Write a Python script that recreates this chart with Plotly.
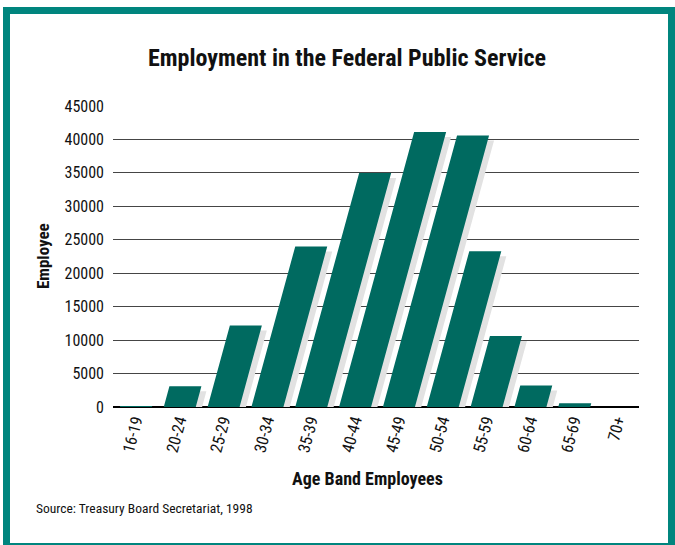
import plotly.graph_objects as go

# Federal public service headcount by age band, 1998
age_bands = ["16-19", "20-24", "25-29", "30-34", "35-39", "40-44",
             "45-49", "50-54", "55-59", "60-64", "65-69", "70+"]
employees = [150, 3100, 12200, 24000, 35000, 41100,
             40600, 23300, 10600, 3200, 550, 100]
y_tick_values = list(range(0, 45001, 5000))

W, H = 675, 545
MARGIN = dict(l=113, r=36, t=106, b=138)
plot_w = W - MARGIN["l"] - MARGIN["r"]
plot_h = H - MARGIN["t"] - MARGIN["b"]
x_range = [-0.5, len(age_bands) - 0.5]
y_range = [0, 45000]
ux = plot_w / (x_range[1] - x_range[0])   # px per category
uy = plot_h / (y_range[1] - y_range[0])   # px per employee

BAR_COLOR = "#006A60"
SHADOW_COLOR = "#E2E2E2"
FRAME_COLOR = "#00857E"
FONT = "Liberation Sans Narrow, Roboto Condensed, DejaVu Sans Condensed, Arial Narrow, sans-serif"

BAR_W = 32 / ux          # bar width in category units
LEAN = 0.273             # horizontal px per vertical px of the slanted bars
SH_DX, SH_DY = 5, 5      # drop shadow offset in px


def lean(v):
    """Horizontal shift (category units) of a bar edge at height v."""
    return LEAN * v * uy / ux


bar_x, bar_y, sh_x, sh_y = [], [], [], []
for i, v in enumerate(employees):
    x0 = i - BAR_W / 2 + 1 / ux
    bar_x += [x0, x0 + BAR_W, x0 + BAR_W + lean(v), x0 + lean(v), x0, None]
    bar_y += [0, 0, v, v, 0, None]
    top = v - SH_DY / uy
    if top > 0:
        sx0 = x0 + SH_DX / ux + lean(SH_DY / uy)
        tx0 = x0 + SH_DX / ux + lean(v)
        sh_x += [sx0, sx0 + BAR_W, tx0 + BAR_W, tx0, sx0, None]
        sh_y += [0, 0, top, top, 0, None]

fig = go.Figure()
fig.add_trace(go.Scatter(x=sh_x, y=sh_y, mode="lines", fill="toself",
                         fillcolor=SHADOW_COLOR, line=dict(width=0),
                         hoverinfo="skip", showlegend=False))
fig.add_trace(go.Scatter(x=bar_x, y=bar_y, mode="lines", fill="toself",
                         fillcolor=BAR_COLOR, line=dict(width=0, color=BAR_COLOR),
                         hoverinfo="skip", showlegend=False))


def px_x(px):
    return (px - MARGIN["l"]) / plot_w


def px_y(py):
    return 1 - (py - MARGIN["t"]) / plot_h


# teal frame around the whole graphic
fig.add_shape(type="rect", xref="paper", yref="paper",
              x0=px_x(6.5), x1=px_x(671.5), y0=px_y(546.5), y1=px_y(10.5),
              line=dict(color=FRAME_COLOR, width=7), layer="above")

annotations = [
    dict(text="<b>Employment in the Federal Public Service</b>", x=px_x(347), y=px_y(58),
         font=dict(size=24, color="#111")),
    dict(text="<b>Employee</b>", x=px_x(43), y=px_y(256), textangle=-90,
         font=dict(size=17, color="#111")),
    dict(text="<b>Age Band Employees</b>", x=px_x(367), y=px_y(478),
         font=dict(size=18, color="#111")),
    dict(text="Source: Treasury Board Secretariat, 1998", x=px_x(34), y=px_y(508),
         xanchor="left", font=dict(size=13.5, color="#111")),
]
for a in annotations:
    a.setdefault("xanchor", "center")
    fig.add_annotation(xref="paper", yref="paper", yanchor="middle",
                       showarrow=False, font_family=FONT, **a)

fig.update_layout(
    width=W, height=H, margin=MARGIN,
    paper_bgcolor="white", plot_bgcolor="white",
    font=dict(family=FONT, size=14, color="#111"),
    xaxis=dict(range=x_range, tickmode="array", tickvals=list(range(len(age_bands))),
               ticktext=age_bands, tickangle=-75, showgrid=False, zeroline=False,
               showline=False, ticks="", tickfont=dict(size=16.5)),
    yaxis=dict(range=y_range, tickmode="array", tickvals=y_tick_values,
               tickformat="d", showgrid=True, gridcolor="#454545", gridwidth=1.3,
               zeroline=True, zerolinecolor="#000", zerolinewidth=1.6,
               showline=False, ticks="", ticklabelstandoff=8,
               tickfont=dict(size=16)),
)

fig.write_html("out.html")
